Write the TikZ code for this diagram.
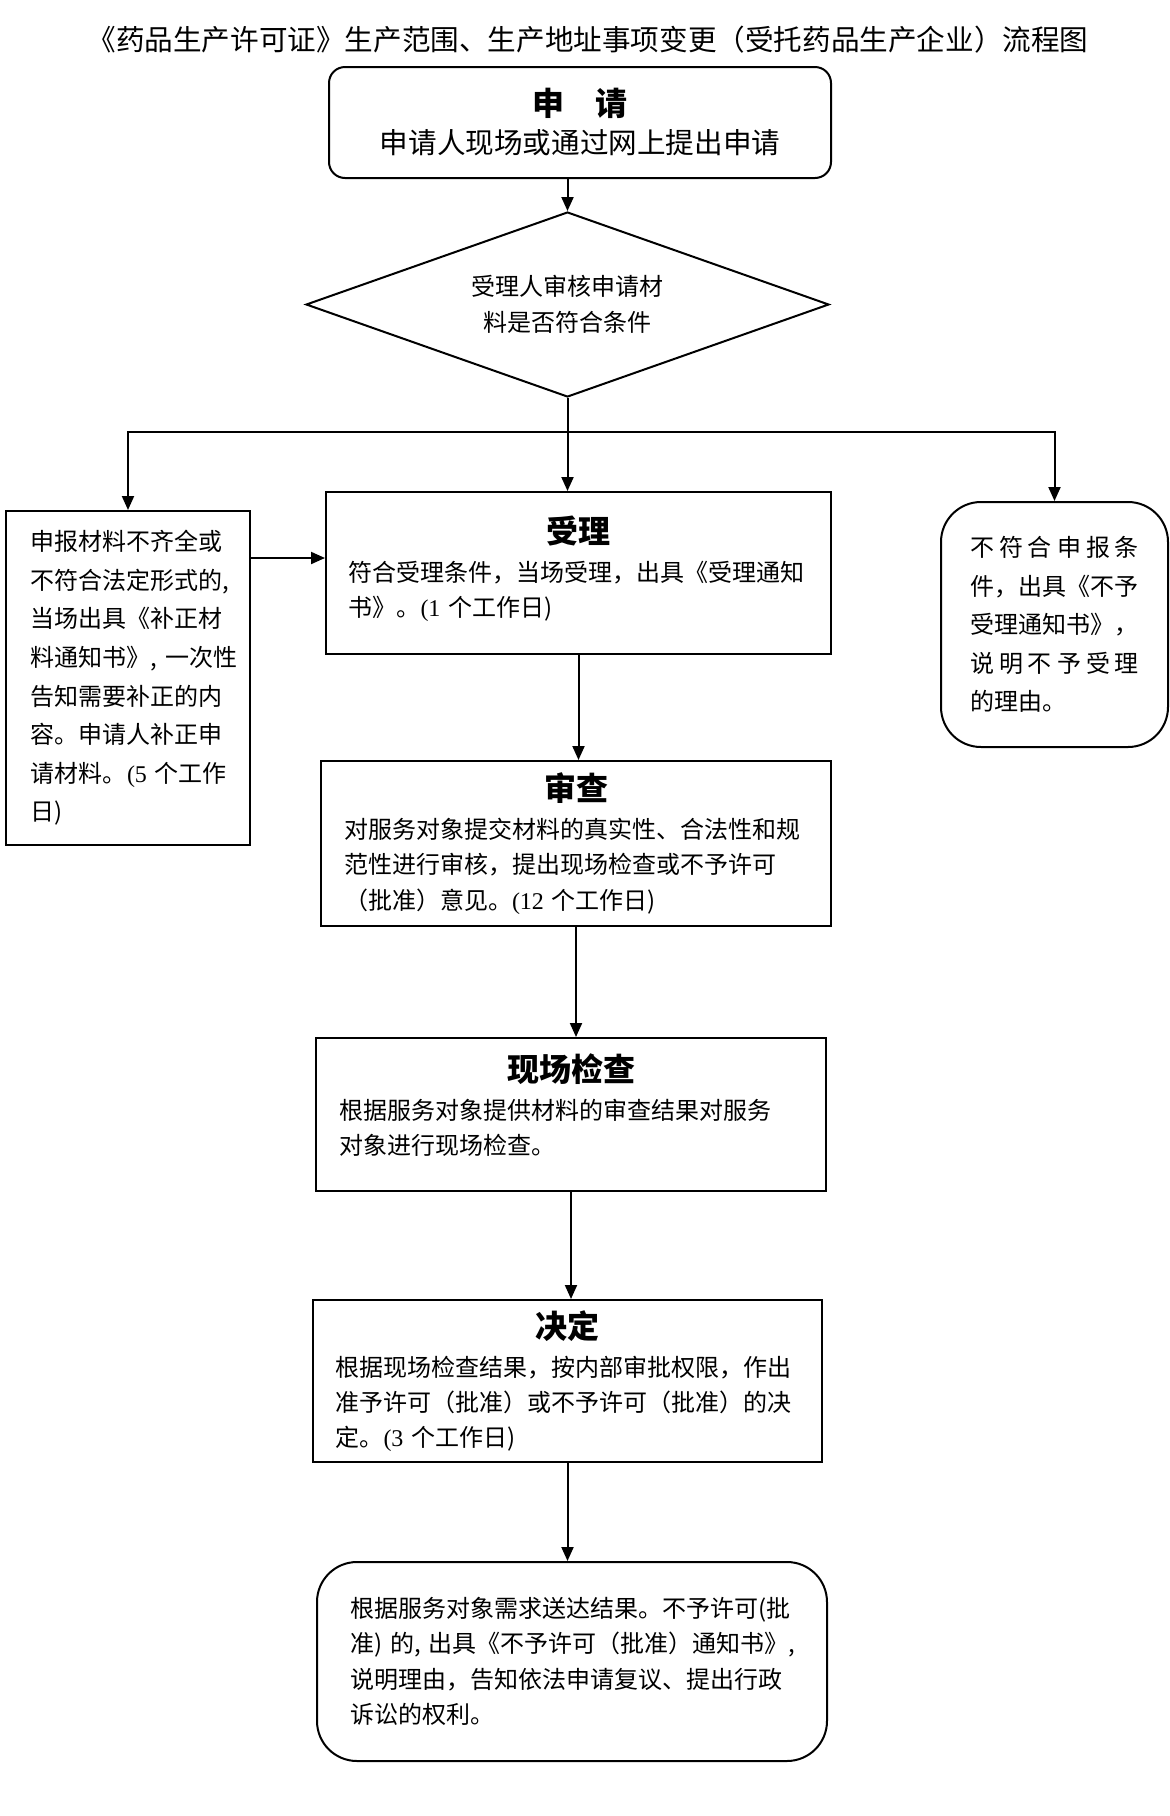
\documentclass[tikz,border=0pt]{standalone}
\usepackage{fontspec}
\setmainfont{Noto Sans CJK SC}
\newfontfamily\digitfont{Liberation Serif}
\usetikzlibrary{arrows.meta,shapes.geometric}
\newcommand\dg[1]{{\digitfont #1}}
\newcommand\hd[1]{\makebox[\linewidth]{\fontsize{16}{19}\selectfont\bfseries #1}\\[1.5pt]}

\begin{document}
\begin{tikzpicture}[
  x=0.5pt, y=-0.5pt,
  box/.style={rectangle, draw, line width=1pt, inner sep=0pt, align=left, font=\fontsize{12}{17.6}\selectfont},
  roundbox/.style={box, rounded corners=20pt},
  decision/.style={diamond, draw, line width=1pt, inner sep=0pt, aspect=2.83, minimum width=261.5pt, minimum height=92.5pt, align=center, font=\fontsize{12}{18}\selectfont},
  arr/.style={-{Triangle[length=7pt, width=6pt]}, line width=1pt}
]
  \path[fill=white] (0,0) rectangle (1170,1816);
  \node[font=\fontsize{14.3}{17}\selectfont] (title) at (588,40) {《药品生产许可证》生产范围、生产地址事项变更（受托药品生产企业）流程图};
  \node[box, rounded corners=8pt, align=center, minimum width=251pt, minimum height=55.5pt, font=\fontsize{14.3}{19}\selectfont] (apply) at (580,122.5) {{\fontsize{16}{19}\selectfont\bfseries 申\hspace{1em}请}\\申请人现场或通过网上提出申请};
  \node[decision] (q) at (567.5,304.5) {受理人审核申请材\\料是否符合条件};
  \node[box, text width=230pt, minimum width=252.5pt, minimum height=81pt] (accept) at (578.5,573) {\hd{受理}符合受理条件，当场受理，出具《受理通知\\书》。\dg{(1}~个工作日)\\[-11pt]\mbox{}};
  \node[box, text width=97pt, minimum width=122pt, minimum height=167pt, font=\fontsize{12}{19.3}\selectfont] (fix) at (128,678) {申报材料不齐全或\\不符合法定形式的,\\当场出具《补正材\\料通知书》,~一次性\\告知需要补正的内\\容。申请人补正申\\请材料。\dg{(5}~个工作\\日)};
  \node[roundbox, text width=84.5pt, minimum width=113.5pt, minimum height=122.5pt, align=justify, font={\fontsize{12}{19.2}\selectfont}] (reject) at (1054.5,624.5) {\XeTeXlinebreaklocale "zh"\relax\XeTeXlinebreakskip=0pt plus 5pt\relax 不符合申报条\linebreak 件，出具《不予\linebreak 受理通知书》，\linebreak 说明不予受理\linebreak 的理由。\XeTeXlinebreaklocale ""\relax};
  \node[box, text width=232pt, minimum width=255pt, minimum height=82.5pt] (review) at (576,843.5) {\hd{审查}对服务对象提交材料的真实性、合法性和规\\范性进行审核，提出现场检查或不予许可\\（批准）意见。\dg{(12}~个工作日)};
  \node[box, text width=232pt, minimum width=255pt, minimum height=76.5pt] (site) at (571,1114.5) {\hd{现场检查}根据服务对象提供材料的审查结果对服务\\对象进行现场检查。\\[-7pt]\mbox{}};
  \node[box, text width=232pt, minimum width=254.5pt, minimum height=81pt] (decide) at (567.5,1381) {\hd{决定}根据现场检查结果，按内部审批权限，作出\\准予许可（批准）或不予许可（批准）的决\\定。\dg{(3}~个工作日)};
  \node[roundbox, text width=222pt, minimum width=255pt, minimum height=99.5pt, font=\fontsize{12}{17.7}\selectfont] (result) at (572,1661.5) {\mbox{根据服务对象需求送达结果。不予许可(批}\\\mbox{准)~的,~出具《不予许可（批准）通知书》,}\\说明理由，告知依法申请复议、提出行政\\诉讼的权利。};
  \coordinate (split) at (567.5,432);
  \coordinate (fixout) at ([yshift=-24pt]fix.north east);
  \draw[arr] (q.north |- apply.south) -- (q.north);
  \draw[arr] (q.south) -- (q.south |- accept.north);
  \draw[arr] (split) -| (fix.north);
  \draw[arr] (split) -| (reject.north);
  \draw[arr] (fixout) -- (fixout -| accept.west);
  \draw[arr] (accept.south) -- (accept.south |- review.north);
  \draw[arr] (review.south) -- (review.south |- site.north);
  \draw[arr] (site.south) -- (site.south |- decide.north);
  \draw[arr] (decide.south) -- (decide.south |- result.north);
\end{tikzpicture}
\end{document}
